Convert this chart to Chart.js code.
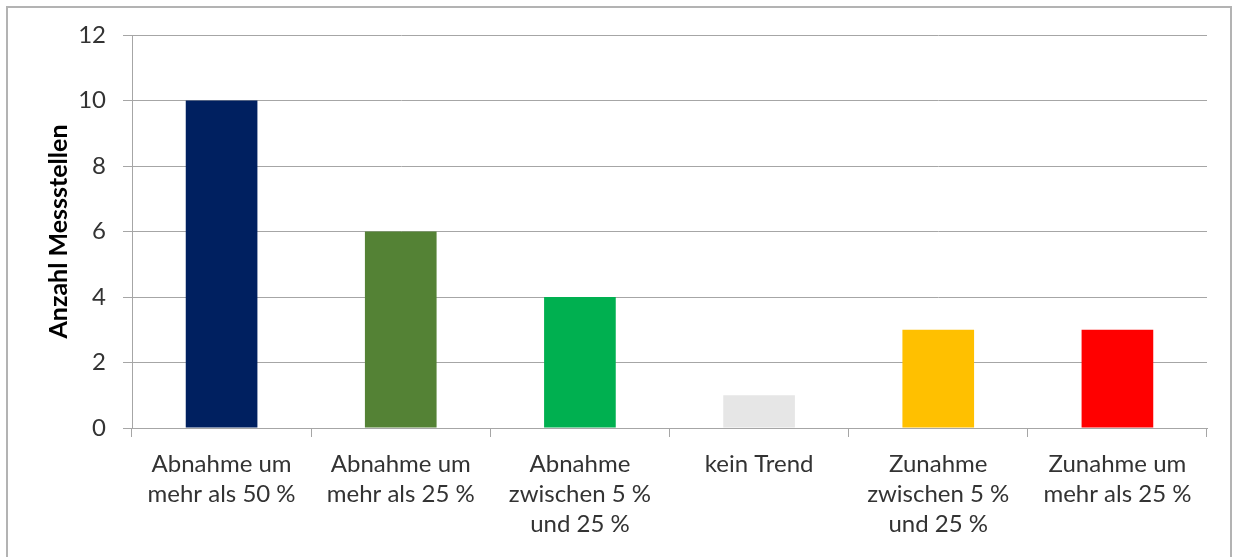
<!DOCTYPE html>
<html>
<head>
<meta charset="utf-8">
<script src="https://cdn.jsdelivr.net/npm/chart.js@4/dist/chart.umd.min.js"></script>
<style>
  html, body { margin: 0; padding: 0; background: #fff; }
  #rahmen { position: absolute; left: 6px; top: 6px; width: 1222px; height: 600px; border: 2px solid #b3b3b3; }
  #wrap { position: absolute; left: 0; top: 0; width: 1233px; height: 557px; }
</style>
</head>
<body>
<div id="rahmen"></div>
<div id="wrap"><canvas id="diagramm"></canvas></div>
<script>
// Kategorien (mehrzeilige Beschriftung)
const kategorien = [
    ['Abnahme um', 'mehr als 50 %'],
    ['Abnahme um', 'mehr als 25 %'],
    ['Abnahme', 'zwischen 5 %', 'und 25 %'],
    ['kein Trend'],
    ['Zunahme', 'zwischen 5 %', 'und 25 %'],
    ['Zunahme um', 'mehr als 25 %']
];
// Anzahl Messstellen je Kategorie
const anzahl = [10, 6, 4, 1, 3, 3];
const farben = ['#002060', '#548235', '#00B050', '#E6E6E6', '#FFC000', '#FF0000'];
const yTicks = [0, 2, 4, 6, 8, 10, 12];

const schrift = "Lato, 'Open Sans', sans-serif";
const gitterFarbe = '#a6a6a6';

const ctx = document.getElementById('diagramm').getContext('2d');
new Chart(ctx, {
    type: 'bar',
    data: {
        labels: kategorien,
        datasets: [{
            data: anzahl,
            backgroundColor: farben,
            barPercentage: 0.4,
            categoryPercentage: 1.0
        }]
    },
    options: {
        responsive: true,
        maintainAspectRatio: false,
        animation: false,
        layout: { padding: { top: 35, right: 26, bottom: 0, left: 0 } },
        plugins: { legend: { display: false }, tooltip: { enabled: false } },
        scales: {
            x: {
                afterFit: function(scale) { scale.height = 129; },
                grid: { drawOnChartArea: false, drawTicks: true, tickLength: 9, color: gitterFarbe, offset: true },
                border: { color: gitterFarbe, width: 1 },
                ticks: {
                    color: '#333333',
                    font: { family: schrift, size: 24, lineHeight: 1.25 },
                    padding: 12,
                    maxRotation: 0,
                    autoSkip: false
                }
            },
            y: {
                min: 0,
                max: 12,
                afterFit: function(scale) { scale.width = 132; },
                afterBuildTicks: function(scale) { scale.ticks = yTicks.map(v => ({ value: v })); },
                grid: { color: gitterFarbe, tickLength: 9 },
                border: { color: gitterFarbe, width: 1 },
                ticks: {
                    color: '#333333',
                    font: { family: schrift, size: 24 },
                    padding: 17
                },
                title: {
                    display: true,
                    text: 'Anzahl Messstellen',
                    color: '#000',
                    font: { family: schrift, size: 25, weight: 'bold' },
                    padding: { top: 44, bottom: 0 }
                }
            }
        }
    }
});
</script>
</body>
</html>
